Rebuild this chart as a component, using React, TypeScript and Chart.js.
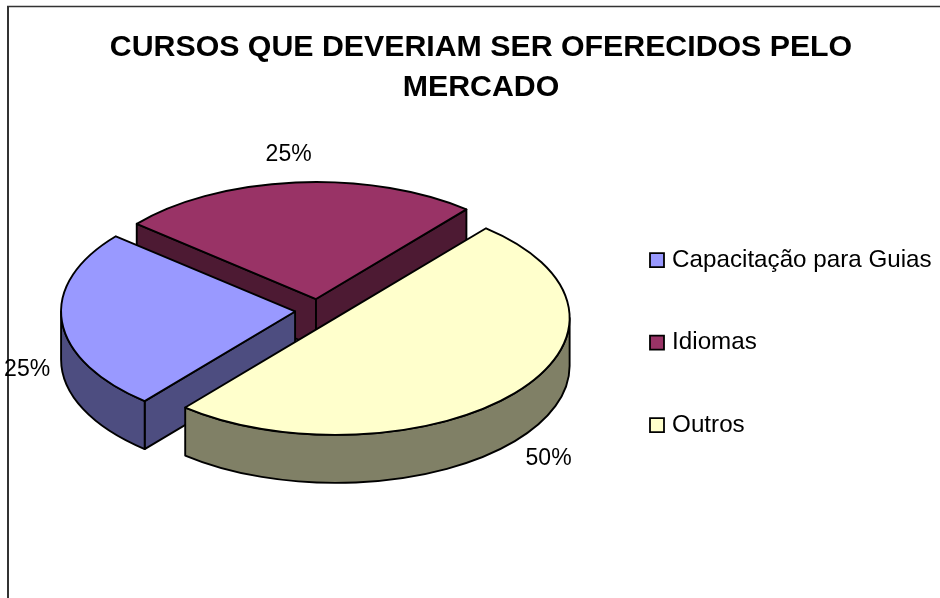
import React, { useEffect, useRef } from "react";
import { Chart, registerables } from "chart.js";

Chart.register(...registerables);

const titleLines = ["CURSOS QUE DEVERIAM SER OFERECIDOS PELO", "MERCADO"];
const categories = ["Capacitação para Guias", "Idiomas", "Outros"];
const values = [25, 25, 50];
const topColors = ["#9999FF", "#993366", "#FFFFCC"];
const sideColors = ["#4D4D80", "#4D1A33", "#808066"];

const FONT = "'Liberation Sans', Arial, sans-serif";
const SQUASH = 0.5;
const DEPTH = 48;
const RADIUS = 234;
const EXPLODE = 23;
const LABEL_RADII = [269, 291, 278];
const LABEL_NUDGE_X = [0, -2, 0];
const LABEL_NUDGE_Y = [-2, 1, 3];
const INK = "#000";

const pie3d = {
  id: "pie3d",
  beforeDraw(chart: any) {
    const { ctx } = chart;
    ctx.save();
    ctx.strokeStyle = "#333";
    ctx.lineWidth = 2;
    ctx.beginPath();
    ctx.moveTo(8, 598);
    ctx.lineTo(8, 6.5);
    ctx.stroke();
    ctx.lineWidth = 1.5;
    ctx.beginPath();
    ctx.moveTo(7, 6.5);
    ctx.lineTo(940, 6.5);
    ctx.stroke();
    ctx.restore();
  },
  afterLayout(chart: any) {
    const t = chart.titleBlock;
    t.left = 22;
    t.right = 940;
    const l = chart.legend;
    const pad = l.options.labels.padding;
    l.left = 654 - pad;
    l.right = 940;
    l.top = 248 - pad;
    l.bottom = 598;
    l.adjustHitBoxes();
  },
  beforeDatasetDraw(chart: any, args: any) {
    const { ctx } = chart;
    const arcs = args.meta.data as any[];
    const total = values.reduce((a, b) => a + b, 0);
    const slices = arcs.map((arc, i) => {
      const p = arc.getProps(["x", "y", "startAngle", "endAngle", "outerRadius"], true);
      const mid = (p.startAngle + p.endAngle) / 2;
      const off = arc.options.offset;
      return {
        i,
        ...p,
        mid,
        ax: p.x + Math.cos(mid) * off,
        ay: p.y + Math.sin(mid) * off * SQUASH,
      };
    });
    const order = [...slices].sort((a, b) => a.ay - b.ay);
    ctx.save();
    ctx.lineJoin = "round";
    ctx.lineWidth = 1.9;
    ctx.strokeStyle = INK;
    for (const s of order) {
      const r = s.outerRadius;
      const ry = r * SQUASH;
      ctx.fillStyle = sideColors[s.i];
      const face = (a: number) => {
        const ex = s.ax + Math.cos(a) * r;
        const ey = s.ay + Math.sin(a) * ry;
        ctx.beginPath();
        ctx.moveTo(s.ax, s.ay);
        ctx.lineTo(ex, ey);
        ctx.lineTo(ex, ey + DEPTH);
        ctx.lineTo(s.ax, s.ay + DEPTH);
        ctx.closePath();
        ctx.fill();
        ctx.stroke();
      };
      if (Math.cos(s.startAngle) < 0) face(s.startAngle);
      if (Math.cos(s.endAngle) > 0) face(s.endAngle);
      for (let k = -2; k <= 2; k++) {
        const a0 = Math.max(s.startAngle, k * 2 * Math.PI);
        const a1 = Math.min(s.endAngle, k * 2 * Math.PI + Math.PI);
        if (a1 > a0) {
          ctx.beginPath();
          ctx.ellipse(s.ax, s.ay, r, ry, 0, a0, a1);
          ctx.lineTo(s.ax + Math.cos(a1) * r, s.ay + Math.sin(a1) * ry + DEPTH);
          ctx.ellipse(s.ax, s.ay + DEPTH, r, ry, 0, a1, a0, true);
          ctx.closePath();
          ctx.fill();
          ctx.stroke();
        }
      }
      ctx.fillStyle = topColors[s.i];
      ctx.beginPath();
      ctx.moveTo(s.ax, s.ay);
      ctx.ellipse(s.ax, s.ay, r, ry, 0, s.startAngle, s.endAngle);
      ctx.closePath();
      ctx.fill();
      ctx.stroke();
    }
    ctx.fillStyle = INK;
    ctx.font = `23px ${FONT}`;
    ctx.textAlign = "center";
    ctx.textBaseline = "middle";
    for (const s of slices) {
      const R = LABEL_RADII[s.i];
      const sin = Math.sin(s.mid);
      const lx = s.ax + Math.cos(s.mid) * R + LABEL_NUDGE_X[s.i];
      const ly = s.ay + sin * R * SQUASH + (sin > 0 ? DEPTH : 0) + LABEL_NUDGE_Y[s.i];
      ctx.fillText(`${Math.round((values[s.i] / total) * 100)}%`, lx, ly);
    }
    ctx.restore();
    return false;
  },
};

export default function App() {
  const ref = useRef<HTMLCanvasElement>(null);
  useEffect(() => {
    const chart = new Chart(ref.current as HTMLCanvasElement, {
      type: "pie",
      data: {
        labels: categories,
        datasets: [
          {
            data: values,
            backgroundColor: topColors,
            borderWidth: 0,
            offset: EXPLODE,
            clip: false,
          } as any,
        ],
      },
      options: {
        animation: false,
        responsive: false,
        rotation: 220,
        radius: RADIUS,
        layout: { padding: { left: 0, right: 304, top: 0, bottom: 85 } },
        plugins: {
          tooltip: { enabled: false },
          title: {
            display: true,
            text: titleLines,
            color: INK,
            font: { family: FONT, size: 30.3, weight: "bold", lineHeight: 1.32 },
            padding: { top: 28, bottom: 0 },
          },
          legend: {
            display: true,
            position: "chartArea",
            align: "start",
            labels: {
              boxWidth: 6,
              boxHeight: 14,
              usePointStyle: true,
              padding: 58.3,
              color: INK,
              font: { family: FONT, size: 24.2 },
              generateLabels: () =>
                categories.map((text, i) => ({
                  text,
                  fillStyle: topColors[i],
                  strokeStyle: INK,
                  lineWidth: 1.8,
                  pointStyle: "rect",
                  fontColor: INK,
                  index: i,
                })),
            },
          },
        },
      } as any,
      plugins: [pie3d],
    });
    return () => chart.destroy();
  }, []);
  return (
    <canvas
      ref={ref}
      width={940}
      height={598}
      style={{ position: "fixed", left: 0, top: 0, display: "block" }}
    />
  );
}
